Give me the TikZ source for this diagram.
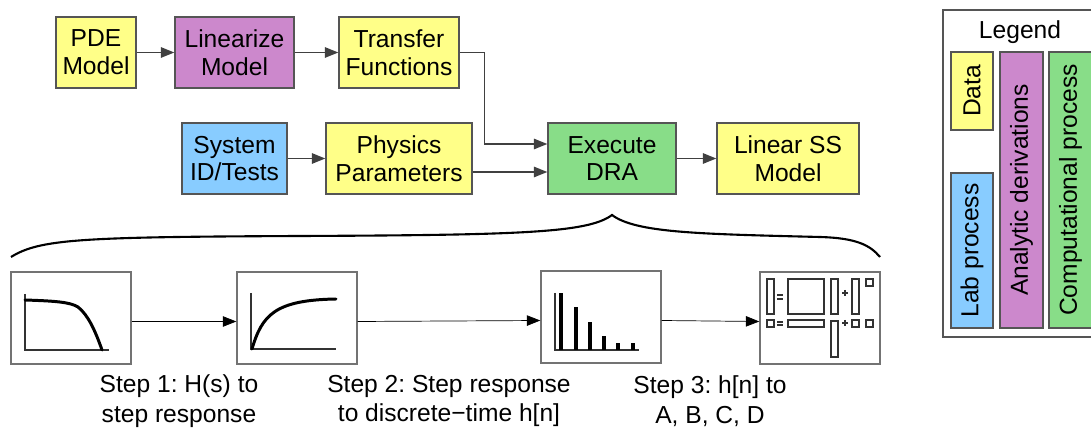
\documentclass[tikz,border=0pt]{standalone}
\usepackage{fontspec}
\setmainfont{Liberation Sans}
\usetikzlibrary{arrows.meta}
\definecolor{datayellow}{RGB}{255,255,136}
\definecolor{derivpurple}{RGB}{204,136,204}
\definecolor{labblue}{RGB}{136,204,255}
\definecolor{compgreen}{RGB}{136,221,136}
\definecolor{edgegray}{RGB}{85,85,85}
\frenchspacing

\begin{document}
\begin{tikzpicture}[x=0.02cm, y=-0.02cm,
    blk/.style={draw=edgegray, line width=0.8pt, minimum height=1.42cm, inner sep=0pt,
        align=center, font=\fontsize{14}{15.8}\selectfont},
    datanode/.style={blk, fill=datayellow},
    derivnode/.style={blk, fill=derivpurple},
    labnode/.style={blk, fill=labblue},
    compnode/.style={blk, fill=compgreen},
    conn/.style={draw=black!75, line width=0.8pt, -{Triangle[length=0.27cm,width=0.21cm]}},
    stepbox/.style={draw=black!55, line width=0.8pt, minimum width=2.4cm, minimum height=1.84cm, inner sep=0pt},
    steptext/.style={align=center, font=\fontsize{14}{17}\selectfont},
    curve/.style={line width=1.7pt, line cap=round},
    axis/.style={line width=0.6pt, black!80},
    mat/.style={line width=0.65pt, black!80}]
    \useasboundingbox (0,0) rectangle (1091,428);

    % top row
    \node[datanode, minimum width=1.6cm] (pde) at (96,52.5) {PDE\\Model};
    \node[derivnode, minimum width=2.38cm] (lin) at (234.5,52.5) {Linearize\\Model};
    \node[datanode, minimum width=2.4cm] (tf) at (399,52.5) {Transfer\\Functions};

    % second row
    \node[labnode, minimum width=2.1cm] (sysid) at (234.5,158.5) {System\\ID/Tests};
    \node[datanode, minimum width=2.92cm] (phys) at (399,158.5) {Physics\\Parameters};
    \node[compnode, minimum width=2.56cm] (dra) at (612,158.5) {Execute\\DRA};
    \node[datanode, minimum width=2.84cm] (ss) at (788,158.5) {Linear SS\\Model};

    \draw[conn] (pde) -- (lin);
    \draw[conn] (lin) -- (tf);
    \draw[conn] (sysid) -- (phys);
    \draw[conn] (tf.east) -- ++(25,0) |- ([yshift=0.29cm]dra.west);
    \draw[conn] ([yshift=-0.27cm]phys.east) -- ([yshift=-0.27cm]dra.west);
    \draw[conn] (dra) -- (ss);

    % brace under DRA
    \draw[line width=1.2pt] (11,257) .. controls (40,239) and (80,237) .. (300,236)
        .. controls (520,235) and (588,233) .. (612,215)
        .. controls (636,233) and (700,234) .. (820,237)
        .. controls (856,238) and (870,245) .. (880,257);

    % steps of the DRA
    \node[stepbox] (hs) at (71,318) {};
    \node[stepbox] (stepr) at (297,318) {};
    \node[stepbox] (hn) at (601,317) {};
    \node[stepbox] (abcd) at (820,318) {};

    \draw[-{Triangle[length=0.27cm,width=0.21cm]}] ([yshift=-0.07cm]hs.east) -- ([yshift=-0.07cm]stepr.west);
    \draw[-{Triangle[length=0.27cm,width=0.21cm]}] ([yshift=-0.07cm]stepr.east) -- ([yshift=-0.07cm]hn.west);
    \draw[-{Triangle[length=0.27cm,width=0.21cm]}] ([yshift=-0.07cm]hn.east) -- ([yshift=-0.07cm]abcd.west);

    \node[steptext] (lbl1) at (179,401) {Step 1: H(s) to\\step response};
    \node[steptext] (lbl2) at (449,401) {Step 2: Step response\\to discrete−time h[n]};
    \node[steptext] (lbl3) at (710,401) {Step 3: h[n] to\\A, B, C, D};

    % frequency response
    \draw[axis] (25,294) -- (25,350) -- (109,350);
    \draw[curve] (25,300) .. controls (55,301) and (70,302) .. (78,307)
        .. controls (88,315) and (95,330) .. (102,350);

    % step response
    \draw[axis] (251,293) -- (251,349) -- (336,349);
    \draw[curve] (252,349) .. controls (262,315) and (275,300) .. (336,299);

    % discrete samples
    \draw[axis] (555,293) -- (555,350) -- (639,350);
    \foreach \x/\t in {561/293, 576/307, 590/322, 604/336, 618/343, 633/343}
        \draw[line width=0.08cm] (\x,350) -- (\x,\t);

    % state space matrices
    \draw[mat] (767,279) rectangle (774,314);
    \draw[mat] (777,295) -- (783,295) (777,299) -- (783,299);
    \draw[mat] (788,279) rectangle (824,314);
    \draw[mat] (831,279) rectangle (838,314);
    \draw[mat] (842,293) -- (848,293) (845,290) -- (845,296);
    \draw[mat] (852,279) rectangle (859,314);
    \draw[mat] (866,279) rectangle (873,286);
    \draw[mat] (767,320) rectangle (774,327);
    \draw[mat] (777,322) -- (783,322) (777,325) -- (783,325);
    \draw[mat] (788,320) rectangle (824,327);
    \draw[mat] (831,321) rectangle (838,357);
    \draw[mat] (842,323) -- (848,323) (845,320) -- (845,326);
    \draw[mat] (852,320) rectangle (859,327);
    \draw[mat] (866,320) rectangle (873,327);

    % legend
    \node[draw=edgegray, line width=0.8pt, minimum width=3.08cm, minimum height=6.54cm] (legend) at (1020,173.5) {};
    \node[font=\fontsize{14}{15.8}\selectfont] (legtitle) at (1020,32) {Legend};
    \node[datanode, rotate=90, minimum width=1.56cm, minimum height=0.84cm] (legdata) at (972,91) {Data};
    \node[labnode, rotate=90, minimum width=3.1cm, minimum height=0.84cm] (leglab) at (972,250.5) {Lab process};
    \node[derivnode, rotate=90, minimum width=5.52cm, minimum height=0.86cm] (legderiv) at (1021.5,190) {Analytic derivations};
    \node[compnode, rotate=90, minimum width=5.52cm, minimum height=0.86cm] (legcomp) at (1070.5,190) {Computational process};
\end{tikzpicture}
\end{document}
